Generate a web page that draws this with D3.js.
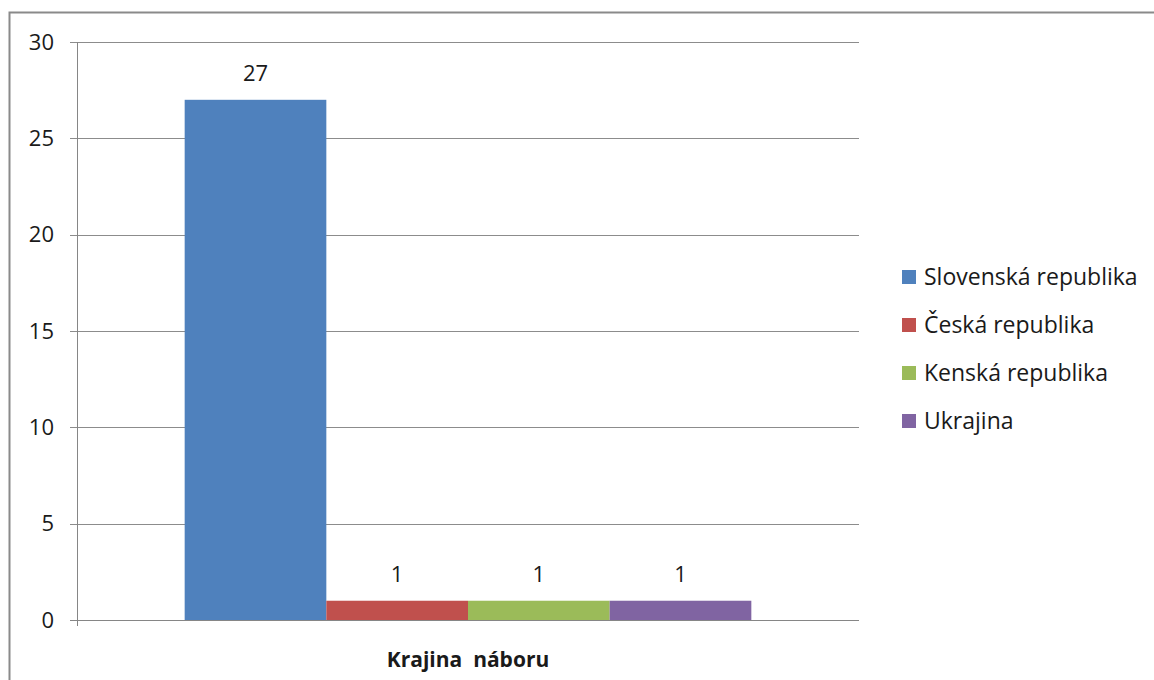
<!DOCTYPE html>
<html>
<head>
<meta charset="utf-8">
<script src="https://d3js.org/d3.v7.min.js"></script>
<style>
  body { margin: 0; background: #fff; }
  text { font-family: "Open Sans", "DejaVu Sans", sans-serif; fill: #1a1a1a; }
</style>
</head>
<body>
<svg width="1154" height="680"></svg>
<script>
// data
var series = ["Slovenská republika", "Česká republika", "Kenská republika", "Ukrajina"];
var values = [27, 1, 1, 1];
var colors = ["#4F81BD", "#C0504D", "#9BBB59", "#8064A2"];
var category = ["Krajina  náboru"];
var yTicks = [0, 5, 10, 15, 20, 25, 30];

var svg = d3.select("svg");

// chart border (only top/left visible)
svg.append("path")
  .attr("d", "M9.5,690 V12.5 H1160")
  .attr("fill", "none")
  .attr("stroke", "#8a8a8a")
  .attr("stroke-width", 2);

var plotLeft = 77, plotRight = 859, plotTop = 42, plotBottom = 620;

var y = d3.scaleLinear().domain([0, 30]).range([plotBottom, plotTop]);
var x0 = d3.scaleBand().domain(category).range([plotLeft, plotRight]).paddingInner(0).paddingOuter(0.19);
var x1 = d3.scaleBand().domain(series).range([0, x0.bandwidth()]).padding(0);

// gridlines
svg.append("g")
  .selectAll("line")
  .data(yTicks)
  .enter().append("line")
  .attr("x1", plotLeft - 7)
  .attr("x2", plotRight)
  .attr("y1", function(d) { return Math.round(y(d)) + 0.5; })
  .attr("y2", function(d) { return Math.round(y(d)) + 0.5; })
  .attr("stroke", "#8c8c8c")
  .attr("stroke-width", 1);

// y axis line
svg.append("line")
  .attr("x1", plotLeft + 0.5).attr("x2", plotLeft + 0.5)
  .attr("y1", plotTop).attr("y2", plotBottom + 6)
  .attr("stroke", "#868686");

// y tick labels
svg.append("g")
  .selectAll("text")
  .data(yTicks)
  .enter().append("text")
  .attr("x", 54)
  .attr("y", function(d) { return y(d); })
  .attr("dy", "0.35em")
  .attr("text-anchor", "end")
  .style("font-size", "22px")
  .text(function(d) { return d; });

// bars
var g = svg.append("g").attr("transform", "translate(" + x0(category[0]) + ",0)");
g.selectAll("rect")
  .data(values)
  .enter().append("rect")
  .attr("x", function(d, i) { return x1(series[i]); })
  .attr("width", x1.bandwidth())
  .attr("y", function(d) { return y(d); })
  .attr("height", function(d) { return y(0) - y(d); })
  .attr("fill", function(d, i) { return colors[i]; });

// value labels
g.selectAll("text")
  .data(values)
  .enter().append("text")
  .attr("x", function(d, i) { return x1(series[i]) + x1.bandwidth() / 2; })
  .attr("y", function(d) { return y(d) - 19; })
  .attr("text-anchor", "middle")
  .style("font-size", "22px")
  .text(function(d) { return d; });

// redraw baseline on top
svg.append("line")
  .attr("x1", plotLeft - 7).attr("x2", plotRight)
  .attr("y1", plotBottom + 0.5).attr("y2", plotBottom + 0.5)
  .attr("stroke", "#868686");

// x axis title
svg.append("text")
  .attr("x", x0(category[0]) + x0.bandwidth() / 2)
  .attr("y", 667)
  .attr("text-anchor", "middle")
  .style("font-size", "21px")
  .style("font-weight", "bold")
  .style("white-space", "pre")
  .text(category[0]);

// legend
var legend = svg.append("g")
  .selectAll("g")
  .data(series)
  .enter().append("g")
  .attr("transform", function(d, i) { return "translate(902," + (277 + i * 48) + ")"; });

legend.append("rect")
  .attr("x", 0).attr("y", -7)
  .attr("width", 14).attr("height", 14)
  .attr("fill", function(d, i) { return colors[i]; });

legend.append("text")
  .attr("x", 22)
  .attr("y", 0)
  .attr("dy", "0.35em")
  .style("font-size", "23px")
  .text(function(d) { return d; });
</script>
</body>
</html>
